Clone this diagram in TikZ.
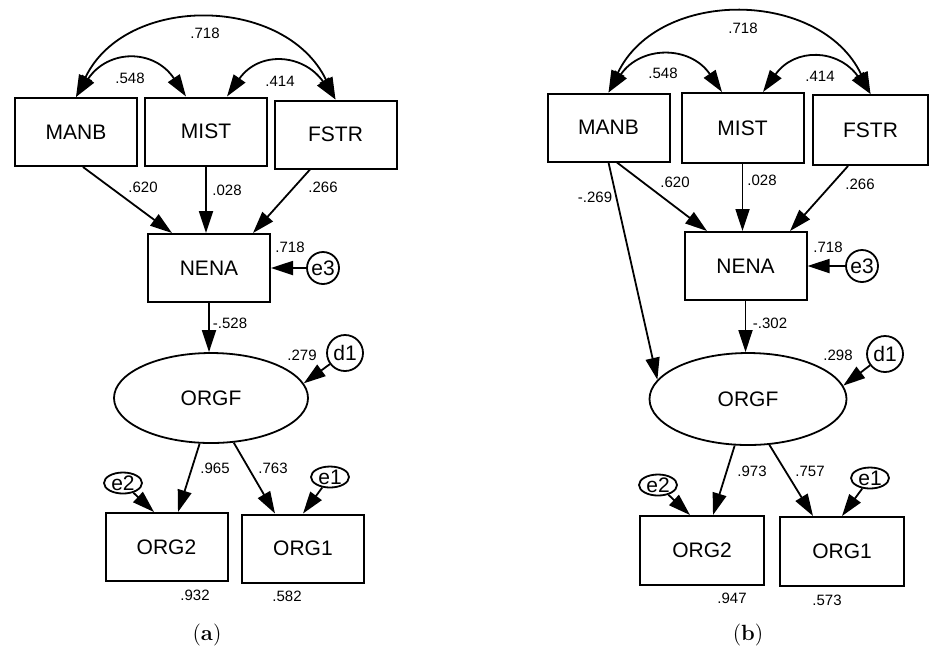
\documentclass[tikz,border=0pt]{standalone}
\usepackage{fontspec}
\setsansfont{Liberation Sans}
\usetikzlibrary{arrows.meta,shapes.geometric}

\begin{document}
\begin{tikzpicture}[x=0.5pt,y=-0.5pt,
		>={Triangle[length=11pt,width=7pt]},
		var/.style={rectangle,draw,line width=1pt,minimum width=61pt,minimum height=34pt,font=\sffamily\fontsize{10.5}{12}\selectfont},
		lat/.style={ellipse,draw,line width=0.9pt,minimum width=97pt,minimum height=45pt,font=\sffamily\fontsize{10.5}{12}\selectfont},
		err/.style={circle,draw,line width=0.9pt,inner sep=0pt,font=\sffamily\fontsize{10.5}{12}\selectfont},
		coef/.style={inner sep=0pt,font=\sffamily\fontsize{7.5}{9}\selectfont},
		reg/.style={draw,line width=0.9pt,->},
		cov/.style={draw,line width=0.9pt,<->}]
		\useasboundingbox (0,0) rectangle (929,650);
		\node (manba) at (76,132) [var] {MANB};
		\node (mista) at (206,131.5) [var] {MIST};
		\node (fstra) at (335.5,134.5) [var] {FSTR};
		\node (nenaa) at (209,268) [var] {NENA};
		\node (orgfa) at (211,398) [lat] {ORGF};
		\node (org2a) at (166.5,547) [var] {ORG2};
		\node (org1a) at (303,548.5) [var] {ORG1};
		\node (e3a) at (323,268) [err,minimum size=16pt] {e3};
		\node (d1a) at (345,353) [err,minimum size=18pt] {d1};
		\node (e2a) at (123,483) [err,ellipse,minimum width=19pt,minimum height=10.5pt] {e2};
		\node (e1a) at (330,477) [err,ellipse,minimum width=19pt,minimum height=10.5pt] {e1};
		\path [cov] (manba.north) .. controls +(50,-104) and +(-50,-104) .. (fstra.north);
		\path [cov] (manba.north) .. controls +(32,-48) and +(-32,-48) .. ([xshift=-10pt]mista.north);
		\path [cov] ([xshift=10.5pt]mista.north) .. controls +(32,-46) and +(-32,-46) .. (fstra.north);
		\path [reg] ([xshift=3.5pt]manba.south) -- ([xshift=-18.5pt]nenaa.north);
		\path [reg] (mista.south) -- (mista.south |- nenaa.north);
		\path [reg] ([xshift=-12.75pt]fstra.south) -- ([xshift=22pt]nenaa.north);
		\path [reg] (e3a) -- (e3a -| nenaa.east);
		\path [reg] (nenaa.south) -- (nenaa.south |- orgfa.north);
		\path [reg] (d1a) -- (orgfa.9);
		\path [reg] (orgfa.256) -- ([xshift=5.75pt]org2a.north);
		\path [reg] (orgfa.297) -- ([xshift=-14pt]org1a.north);
		\path [reg] (e2a) -- ([xshift=-6.25pt]org2a.north);
		\path [reg] (e1a) -- (org1a.north);
		\node (k1a) at (205,33) [coef] {.718};
		\node (k2a) at (130,78) [coef] {.548};
		\node (k3a) at (280,81) [coef] {.414};
		\node (k4a) at (143,187) [coef] {.620};
		\node (k5a) at (227,190) [coef] {.028};
		\node (k6a) at (323,187) [coef] {.266};
		\node (k7a) at (290,247) [coef] {.718};
		\node (k8a) at (230,323) [coef] {-.528};
		\node (k9a) at (302,355) [coef] {.279};
		\node (k10a) at (215,468) [coef] {.965};
		\node (k11a) at (273,468) [coef] {.763};
		\node (k12a) at (195,595) [coef] {.932};
		\node (k13a) at (287,596) [coef] {.582};
		\node (capa) at (207,635) [font=\fontsize{11}{13}\selectfont] {(\textbf{a})};
		\node (manbb) at (608.5,127.5) [var] {MANB};
		\node (mistb) at (742.5,128) [var,minimum height=35pt] {MIST};
		\node (fstrb) at (870.5,130) [var,minimum width=57.5pt,minimum height=35pt] {FSTR};
		\node (nenab) at (745.5,266) [var] {NENA};
		\node (orgfb) at (748,399) [lat,minimum width=98.5pt,minimum height=46pt] {ORGF};
		\node (org2b) at (702,550.5) [var,minimum width=62pt,minimum height=34.5pt] {ORG2};
		\node (org1b) at (842,551.5) [var,minimum width=62pt,minimum height=34.5pt] {ORG1};
		\node (e3b) at (862,266) [err,minimum size=16pt] {e3};
		\node (d1b) at (885,354) [err,minimum size=18pt] {d1};
		\node (e2b) at (658,485) [err,ellipse,minimum width=19pt,minimum height=10.5pt] {e2};
		\node (e1b) at (870,478) [err,ellipse,minimum width=19pt,minimum height=10.5pt] {e1};
		\path [cov] (manbb.north) .. controls +(50,-105) and +(-50,-105) .. (fstrb.north);
		\path [cov] (manbb.north) .. controls +(32,-47) and +(-32,-47) .. ([xshift=-10.25pt]mistb.north);
		\path [cov] ([xshift=10.25pt]mistb.north) .. controls +(32,-45) and +(-32,-45) .. (fstrb.north);
		\path [reg] ([xshift=4.25pt]manbb.south) -- ([xshift=-19.25pt]nenab.north);
		\path [reg] (manbb.south) -- (orgfb.168);
		\path [reg] (mistb.south) -- (mistb.south |- nenab.north);
		\path [reg] ([xshift=-11.25pt]fstrb.south) -- ([xshift=22.25pt]nenab.north);
		\path [reg] (e3b) -- (e3b -| nenab.east);
		\path [reg] (nenab.south) -- (nenab.south |- orgfb.north);
		\path [reg] (d1b) -- (orgfb.8);
		\path [reg] (orgfb.254) -- ([xshift=5.5pt]org2b.north);
		\path [reg] (orgfb.295) -- ([xshift=-14.5pt]org1b.north);
		\path [reg] (e2b) -- ([xshift=-6pt]org2b.north);
		\path [reg] (e1b) -- (org1b.north);
		\node (k1b) at (743,28) [coef] {.718};
		\node (k2b) at (663,73) [coef] {.548};
		\node (k3b) at (820,76) [coef] {.414};
		\node (k4b) at (675,182) [coef] {.620};
		\node (k5b) at (762,180) [coef] {.028};
		\node (k6b) at (860,184) [coef] {.266};
		\node (k7b) at (595,197) [coef] {-.269};
		\node (k8b) at (828,247) [coef] {.718};
		\node (k9b) at (770,323) [coef] {-.302};
		\node (k10b) at (838,355) [coef] {.298};
		\node (k11b) at (752,471) [coef] {.973};
		\node (k12b) at (810,471) [coef] {.757};
		\node (k13b) at (732,598) [coef] {.947};
		\node (k14b) at (827,600) [coef] {.573};
		\node (capb) at (748,635) [font=\fontsize{11}{13}\selectfont] {(\textbf{b})};
	\end{tikzpicture}
\end{document}
